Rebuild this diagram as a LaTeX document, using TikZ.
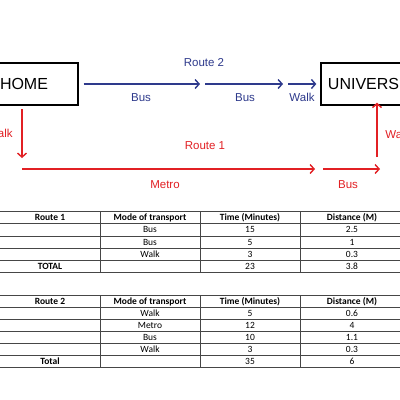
\documentclass[tikz,border=0pt]{standalone}
\usepackage{fontspec}
\setmainfont{Liberation Sans}
\newfontfamily\calfont{Carlito}
\usetikzlibrary{arrows.meta}
\definecolor{rblue}{RGB}{46,58,140}
\definecolor{rred}{RGB}{226,32,36}
\definecolor{tline}{RGB}{70,70,70}
\begin{document}
\begin{tikzpicture}[x=1pt,y=-1pt,
  place/.style={draw=black,line width=1.3pt,minimum height=42pt,inner sep=0pt,font=\fontsize{16}{18}\selectfont},
  barrow/.style={draw=rblue,line width=1.4pt,-{Straight Barb[length=4pt,width=9pt]}},
  rarrow/.style={draw=rred,line width=1.4pt,-{Straight Barb[length=4pt,width=9pt]}},
  bl/.style={text=rblue,font=\fontsize{11.5}{13}\selectfont,inner sep=0pt},
  rl/.style={text=rred,font=\fontsize{11.5}{13}\selectfont,inner sep=0pt},
  tc/.style={font=\calfont\fontsize{9.5}{11}\selectfont,inner sep=0pt},
  th/.style={font=\calfont\bfseries\fontsize{9.5}{11}\selectfont,inner sep=0pt},
  grid/.style={draw=tline,line width=0.7pt}]
\useasboundingbox (0,0) rectangle (400,400);
\clip (0,0) rectangle (400,400);
\fill[white] (0,0) rectangle (400,400);

% boxes
\node[place,minimum width=108pt] (home) at (24,84) {HOME};
\node[place,minimum width=110pt] (uni) at (376,84) {UNIVERSITY};

% route 2 (blue)
\coordinate (b1) at (200,84);
\coordinate (b2) at (205,84);
\coordinate (b3) at (283,84);
\coordinate (b4) at (288,84);
\draw[barrow] ([xshift=5pt]home.east) -- (b1);
\draw[barrow] (b2) -- (b3);
\draw[barrow] (b4) -- ([xshift=-4pt]uni.west);
\node[bl] (lr2) at (204,62.5) {Route 2};
\node[bl] (lb1) at (141,97.5) {Bus};
\node[bl] (lb2) at (245,97.5) {Bus};
\node[bl] (lw2) at (302,97.5) {Walk};

% route 1 (red)
\coordinate (r0) at (22,109);
\coordinate (r1) at (22,158);
\coordinate (r2) at (22,169);
\coordinate (r3) at (315,169);
\coordinate (r4) at (323,169);
\coordinate (r5) at (380,169);
\coordinate (r6) at (377,157);
\draw[rarrow] (r0) -- (r1);
\draw[rarrow] (r2) -- (r3);
\draw[rarrow] (r4) -- (r5);
\draw[rarrow] (r6) -- ([yshift=3pt]uni.south -| r6);
\node[rl] (lw1) at (0,133) {Walk};
\node[rl] (lr1) at (205,146) {Route 1};
\node[rl] (lm1) at (165,184.5) {Metro};
\node[rl] (lb3) at (348,184.5) {Bus};
\node[rl] (lw3) at (398,134) {Walk};

% table 1
\foreach \y in {211.5,223.75,236,248.25,260.5,272.75}
  \draw[grid] (-5,\y) -- (410,\y);
\foreach \x in {100,200,300}
  \draw[grid] (\x,211.5) -- (\x,272.75);
\node[th] (t1a) at (50,217.6) {Route 1};
\node[th] (t1b) at (150,217.6) {Mode of transport};
\node[th] (t1c) at (250,217.6) {Time (Minutes)};
\node[th] (t1d) at (352,217.6) {Distance (M)};
\node[tc] (t1e) at (150,229.9) {Bus};
\node[tc] (t1f) at (250,229.9) {15};
\node[tc] (t1g) at (352,229.9) {2.5};
\node[tc] (t1h) at (150,242.1) {Bus};
\node[tc] (t1i) at (250,242.1) {5};
\node[tc] (t1j) at (352,242.1) {1};
\node[tc] (t1k) at (150,254.4) {Walk};
\node[tc] (t1l) at (250,254.4) {3};
\node[tc] (t1m) at (352,254.4) {0.3};
\node[th] (t1n) at (50,266.6) {TOTAL};
\node[tc] (t1o) at (250,266.6) {23};
\node[tc] (t1p) at (352,266.6) {3.8};

% table 2
\foreach \y in {295.5,307.5,319.5,331.5,343.5,355.5,367.5}
  \draw[grid] (-5,\y) -- (410,\y);
\foreach \x in {100,200,300}
  \draw[grid] (\x,295.5) -- (\x,367.5);
\node[th] (t2a) at (50,301.5) {Route 2};
\node[th] (t2b) at (150,301.5) {Mode of transport};
\node[th] (t2c) at (250,301.5) {Time (Minutes)};
\node[th] (t2d) at (352,301.5) {Distance (M)};
\node[tc] (t2e) at (150,313.5) {Walk};
\node[tc] (t2f) at (250,313.5) {5};
\node[tc] (t2g) at (352,313.5) {0.6};
\node[tc] (t2h) at (150,325.5) {Metro};
\node[tc] (t2i) at (250,325.5) {12};
\node[tc] (t2j) at (352,325.5) {4};
\node[tc] (t2k) at (150,337.5) {Bus};
\node[tc] (t2l) at (250,337.5) {10};
\node[tc] (t2m) at (352,337.5) {1.1};
\node[tc] (t2n) at (150,349.5) {Walk};
\node[tc] (t2o) at (250,349.5) {3};
\node[tc] (t2p) at (352,349.5) {0.3};
\node[th] (t2q) at (50,361.5) {Total};
\node[tc] (t2r) at (250,361.5) {35};
\node[tc] (t2s) at (352,361.5) {6};
\end{tikzpicture}
\end{document}
